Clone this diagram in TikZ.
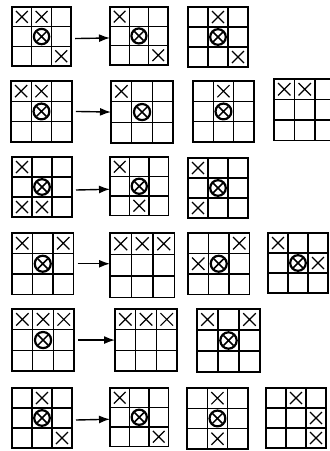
\documentclass[tikz,border=0pt]{standalone}
\usetikzlibrary{arrows.meta}
\tikzset{
  frame/.style={draw, line width=1.4pt, inner sep=0pt, outer sep=0pt},
  gridline/.style={line width=1.2pt},
  xmark/.style={line width=1.2pt},
  omark/.style={line width=2.2pt},
  arr/.style={line width=1.4pt, -{Latex[length=11pt,width=8pt]}}
}
\newcommand\board[5]{%
  \begin{scope}[shift={(#2,#3)}, x=#4pt, y=-#4pt]
    \node[frame, anchor=north west, minimum width={3*#4pt}, minimum height={3*#4pt}] (#1) at (0,0) {};
    \draw[gridline] (1,0)--(1,3) (2,0)--(2,3) (0,1)--(3,1) (0,2)--(3,2);
    #5
  \end{scope}}
\newcommand\markX[2]{\draw[xmark] (#2+0.5,#1+0.5) +(-0.3,-0.3) -- +(0.3,0.3) +(-0.3,0.3) -- +(0.3,-0.3);}
\newcommand\markO[2]{\draw[omark] (#2+0.5,#1+0.5) circle [radius=0.39];
  \draw[xmark, line width=1.5pt] (#2+0.5,#1+0.5) +(-0.24,-0.24) -- +(0.24,0.24) +(-0.24,0.24) -- +(0.24,-0.24);}
\begin{document}
\begin{tikzpicture}[x=1pt, y=-1pt]
\useasboundingbox (0,0) rectangle (330,451);
% row 1
\board{a1}{12}{7}{19.7}{\markX00 \markX01 \markO11 \markX22}
\board{a2}{110}{7}{19.3}{\markX00 \markO11 \markX22}
\board{a3}{188}{7}{20}{\markX01 \markO11 \markX22}
\draw[arr] ([xshift=4pt,yshift=-2pt]a1.east) -- ([yshift=-2pt]a2.west);
% row 2
\board{b1}{11}{81}{20.3}{\markX00 \markX01 \markO11}
\board{b2}{111}{81}{20.7}{\markX00 \markO11}
\board{b3}{193}{81}{20.3}{\markX01 \markO11}
\board{b4}{274}{79}{20.5}{\markX00 \markX01}
\draw[arr] ([xshift=4pt]b1.east) -- (b2.west);
% row 3
\board{c1}{12}{157}{20}{\markX00 \markO11 \markX20 \markX21}
\board{c2}{110}{157}{19.5}{\markX00 \markO11 \markX21}
\board{c3}{188}{158}{20}{\markX00 \markO11 \markX20}
\draw[arr] ([xshift=4pt,yshift=-3pt]c1.east) -- ([yshift=-3pt]c2.west);
% row 4
\board{d1}{12}{233}{20.5}{\markX00 \markX02 \markO11}
\board{d2}{110}{233}{21.5}{\markX00 \markX01 \markX02}
\board{d3}{188}{233}{20.5}{\markX02 \markX10 \markO11}
\board{d4}{268}{233}{20}{\markX00 \markO11 \markX12}
\draw[arr] ([xshift=4pt]d1.east) -- (d2.west |- d1.east);
% row 5
\board{e1}{12}{309}{20.7}{\markX00 \markX01 \markX02 \markO11}
\board{e2}{115}{309}{20.7}{\markX00 \markX01 \markX02}
\board{e3}{197}{309}{21}{\markX00 \markX02 \markO11}
\draw[arr] ([xshift=4pt]e1.east) -- (e2.west);
% row 6
\board{f1}{12}{388}{20}{\markX01 \markO11 \markX22}
\board{f2}{110}{388}{19.5}{\markX00 \markO11 \markX22}
\board{f3}{187}{388}{20.3}{\markX01 \markO11 \markX21}
\board{f4}{266}{388}{20}{\markX01 \markX12 \markX22}
\draw[arr] ([xshift=4pt,yshift=-2pt]f1.east) -- ([yshift=-2pt]f2.west);
\end{tikzpicture}
\end{document}
